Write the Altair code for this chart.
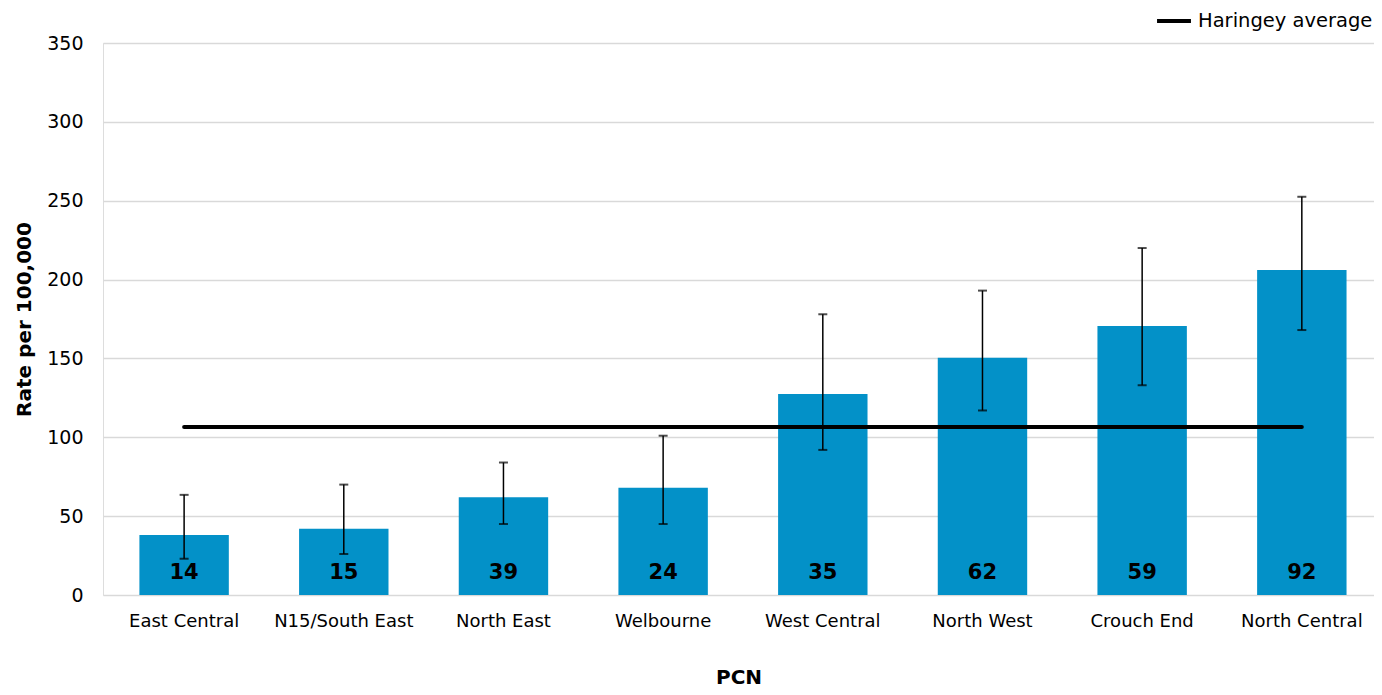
import altair as alt
import pandas as pd

categories = ["East Central", "N15/South East", "North East", "Welbourne",
              "West Central", "North West", "Crouch End", "North Central"]
rates = [38, 42, 62, 68, 127.5, 150.5, 170.5, 206]
lower = [23, 26, 45, 45, 92, 117, 133, 168]
upper = [63.5, 70, 84, 101, 178, 193, 220, 252.5]
counts = [14, 15, 39, 24, 35, 62, 59, 92]
haringey_average = 106.5

df = pd.DataFrame({"pcn": categories, "rate": rates, "lo": lower,
                   "hi": upper, "n": counts})
avg_df = pd.DataFrame({"start": [categories[0]], "end": [categories[-1]],
                       "avg": [haringey_average], "series": ["Haringey average"]})

FONT = "DejaVu Sans"

xscale = alt.Scale(domain=categories, paddingInner=0.44, paddingOuter=0.2, align=0.57)
yscale = alt.Scale(domain=[0, 350])

x_enc = alt.X("pcn:N", scale=xscale, sort=categories,
              axis=alt.Axis(title="PCN", labelAngle=0, domain=False, ticks=False,
                            labelFont=FONT, labelFontSize=18, labelColor="#000",
                            labelPadding=17, titleFont=FONT, titleFontSize=20,
                            titleFontWeight="bold", titleColor="#000",
                            titlePadding=37))

bars = alt.Chart(df).mark_bar(color="#0391c8").encode(
    x=x_enc,
    y=alt.Y("rate:Q", scale=yscale,
            axis=alt.Axis(title="Rate per 100,000", values=[0, 50, 100, 150, 200, 250, 300, 350],
                          domain=False, ticks=False, gridColor="#d9d9d9", gridWidth=1.5,
                          labelFont=FONT, labelFontSize=19, labelColor="#000",
                          labelPadding=20, titleFont=FONT, titleFontSize=20,
                          titleFontWeight="bold", titleColor="#000", titlePadding=12)),
)

err = alt.Chart(df).mark_rule(color="#000", strokeWidth=1.5).encode(
    x=alt.X("pcn:N", scale=xscale, sort=categories),
    y=alt.Y("lo:Q", scale=yscale),
    y2="hi:Q",
)
cap_lo = alt.Chart(df).mark_tick(color="#000", size=9, thickness=2).encode(
    x=alt.X("pcn:N", scale=xscale, sort=categories),
    y=alt.Y("lo:Q", scale=yscale),
)
cap_hi = alt.Chart(df).mark_tick(color="#000", size=9, thickness=2).encode(
    x=alt.X("pcn:N", scale=xscale, sort=categories),
    y=alt.Y("hi:Q", scale=yscale),
)

labels = alt.Chart(df).mark_text(font=FONT, fontSize=21, fontWeight="bold",
                                 color="#000", dy=-22, baseline="middle").encode(
    x=alt.X("pcn:N", scale=xscale, sort=categories),
    y=alt.datum(0),
    text="n:Q",
)

avg = alt.Chart(avg_df).mark_rule(strokeWidth=4, strokeCap="round").encode(
    x=alt.X("start:N", scale=xscale, sort=categories),
    x2="end:N",
    y=alt.Y("avg:Q", scale=yscale),
    stroke=alt.Stroke("series:N", scale=alt.Scale(range=["#000"]),
                      legend=alt.Legend(title=None, orient="none", legendX=1052,
                                        legendY=-41, symbolType="stroke",
                                        symbolStrokeWidth=4, symbolSize=1150,
                                        labelFont=FONT, labelFontSize=19.5,
                                        labelColor="#000", labelOffset=5,
                                        labelLimit=0)),
)

chart = alt.layer(bars, err, cap_lo, cap_hi, labels, avg).properties(
    width=1271, height=552,
    autosize=alt.AutoSizeParams(type="none"),
    padding={"left": 95, "top": 35, "right": 0, "bottom": 92},
).configure_view(stroke=None).configure(background="white")

chart.save("out.html", embed_options={"renderer": "svg", "actions": False})
